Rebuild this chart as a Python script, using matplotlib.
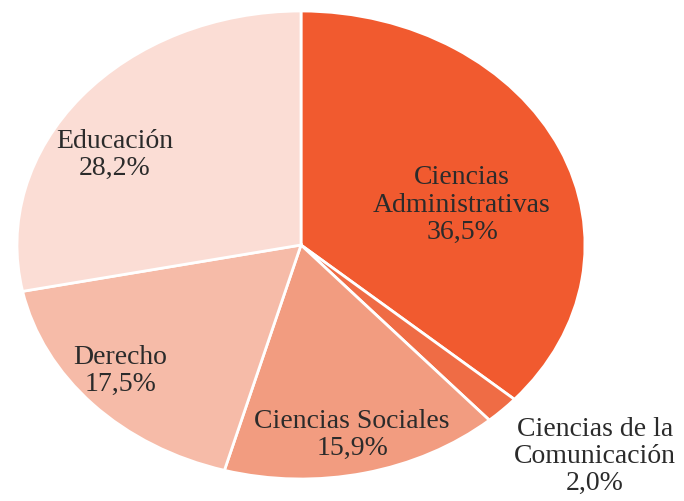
import matplotlib.pyplot as plt

# Distribución por área de conocimiento
labels = ["Ciencias\nAdministrativas", "Ciencias de la\nComunicación",
          "Ciencias Sociales", "Derecho", "Educación"]
values = [36.5, 2.0, 15.9, 17.5, 28.2]
colors = ["#F15A2F", "#EF6C45", "#F29C80", "#F6BBA8", "#FBDDD5"]

# label anchor points (axes data units, pie radius = 1)
label_pos = [(0.567, 0.175), (1.035, -0.90), (0.18, -0.808), (-0.637, -0.534), (-0.655, 0.39)]

plt.rcParams['font.family'] = ['Liberation Serif', 'DejaVu Serif']

fig = plt.figure(figsize=(6.84, 5.02), dpi=100)
# elliptical pie: axes box stretched horizontally
ax = fig.add_axes([17 / 684, 22 / 502, 568 / 684, 468 / 502])

wedges, _ = ax.pie(values, colors=colors, startangle=90, counterclock=False,
                   wedgeprops=dict(edgecolor="white", linewidth=2.0))
ax.set_aspect('auto')
ax.set_xlim(-1, 1)
ax.set_ylim(-1, 1)
ax.axis('off')

for lab, val, (x, y) in zip(labels, values, label_pos):
    txt = f"{lab}\n{val:.1f}%".replace(".", ",")
    ax.text(x, y, txt, ha='center', va='center', fontsize=20,
            color="#2b2b2b", linespacing=1.12, clip_on=False)

fig.savefig("out.png", dpi=100)
